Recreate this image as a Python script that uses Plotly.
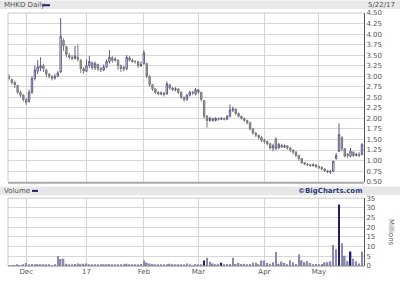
import pandas as pd
import plotly.graph_objects as go

holidays = ['2016-11-24', '2016-12-26', '2017-01-02', '2017-01-16', '2017-02-20', '2017-04-14']
days = [d.strftime('%Y-%m-%d') for d in pd.bdate_range('2016-11-22', '2017-05-22') if d.strftime('%Y-%m-%d') not in holidays]

opens = [3.00, 2.92, 2.85, 2.78, 2.62, 2.55, 2.45, 2.40, 2.62, 2.95,
         3.12, 3.20, 3.25, 3.15, 3.05, 3.00, 2.96, 3.00, 3.10, 3.85,
         3.70, 3.50, 3.45, 3.42, 3.45, 3.38, 3.18, 3.12, 3.25, 3.32,
         3.20, 3.28, 3.18, 3.15, 3.22, 3.35, 3.44, 3.38, 3.38, 3.25,
         3.18, 3.18, 3.44, 3.38, 3.35, 3.35, 3.25, 3.30, 3.30, 3.00,
         2.80, 2.70, 2.62, 2.58, 2.60, 2.58, 2.80, 2.72, 2.68, 2.70,
         2.62, 2.50, 2.45, 2.55, 2.62, 2.58, 2.68, 2.62, 2.42, 2.05,
         1.95, 2.00, 1.95, 2.00, 1.98, 2.00, 1.98, 2.05, 2.20, 2.22,
         2.12, 2.05, 2.00, 1.95, 1.90, 1.75, 1.65, 1.60, 1.55, 1.48,
         1.45, 1.40, 1.30, 1.52, 1.30, 1.36, 1.32, 1.35, 1.30, 1.25,
         1.20, 1.12, 1.05, 0.95, 0.92, 0.90, 0.88, 0.90, 0.86, 0.84,
         0.80, 0.76, 0.73, 0.75, 1.05, 1.22, 1.55, 1.28, 1.15, 1.10,
         1.20, 1.12, 1.15, 1.15]
closes = [2.95, 2.85, 2.80, 2.62, 2.55, 2.45, 2.38, 2.62, 2.95, 3.15,
          3.22, 3.25, 3.18, 3.05, 3.00, 2.95, 3.00, 3.08, 3.95, 3.72,
          3.52, 3.45, 3.42, 3.48, 3.40, 3.18, 3.12, 3.25, 3.35, 3.20,
          3.30, 3.18, 3.15, 3.22, 3.35, 3.45, 3.38, 3.40, 3.25, 3.18,
          3.20, 3.45, 3.38, 3.35, 3.35, 3.25, 3.28, 3.55, 3.00, 2.80,
          2.70, 2.62, 2.58, 2.60, 2.57, 2.82, 2.72, 2.68, 2.70, 2.62,
          2.50, 2.45, 2.55, 2.62, 2.60, 2.68, 2.62, 2.45, 2.05, 1.95,
          2.00, 1.95, 2.00, 1.98, 2.00, 1.98, 2.05, 2.20, 2.22, 2.12,
          2.05, 2.00, 1.95, 1.90, 1.75, 1.65, 1.60, 1.55, 1.48, 1.45,
          1.40, 1.30, 1.35, 1.28, 1.38, 1.32, 1.35, 1.30, 1.25, 1.20,
          1.12, 1.05, 0.95, 0.92, 0.90, 0.88, 0.90, 0.86, 0.84, 0.80,
          0.76, 0.73, 0.74, 0.98, 1.12, 1.62, 1.28, 1.10, 1.12, 1.22,
          1.12, 1.15, 1.12, 1.38]
highs = [3.05, 2.95, 2.90, 2.80, 2.66, 2.58, 2.48, 2.68, 3.00, 3.25,
         3.38, 3.45, 3.30, 3.18, 3.08, 3.02, 3.05, 3.12, 4.38, 3.90,
         3.72, 3.55, 3.50, 3.72, 3.75, 3.40, 3.22, 3.40, 3.48, 3.35,
         3.35, 3.30, 3.22, 3.28, 3.40, 3.62, 3.48, 3.45, 3.40, 3.28,
         3.25, 3.50, 3.48, 3.42, 3.38, 3.36, 3.35, 3.62, 3.32, 3.02,
         2.82, 2.72, 2.65, 2.64, 2.62, 2.88, 2.82, 2.75, 2.74, 2.72,
         2.64, 2.52, 2.58, 2.66, 2.65, 2.72, 2.70, 2.64, 2.44, 2.08,
         2.04, 2.02, 2.03, 2.02, 2.03, 2.02, 2.08, 2.33, 2.28, 2.24,
         2.14, 2.07, 2.02, 1.97, 1.92, 1.77, 1.68, 1.62, 1.58, 1.52,
         1.48, 1.42, 1.40, 1.55, 1.42, 1.40, 1.38, 1.36, 1.32, 1.27,
         1.22, 1.14, 1.06, 0.97, 0.94, 0.92, 0.93, 0.91, 0.88, 0.86,
         0.82, 0.78, 0.78, 1.00, 1.18, 1.88, 1.58, 1.30, 1.18, 1.30,
         1.22, 1.18, 1.20, 1.42]
lows = [2.90, 2.80, 2.72, 2.58, 2.50, 2.40, 2.32, 2.38, 2.58, 2.90,
        3.05, 3.12, 3.10, 2.98, 2.95, 2.90, 2.92, 2.98, 3.08, 3.60,
        3.45, 3.40, 3.38, 3.40, 3.35, 3.08, 3.05, 3.10, 3.20, 3.15,
        3.15, 3.12, 3.10, 3.12, 3.20, 3.30, 3.32, 3.35, 3.15, 3.10,
        3.12, 3.15, 3.35, 3.32, 3.30, 3.20, 3.22, 3.28, 2.95, 2.75,
        2.65, 2.58, 2.55, 2.55, 2.52, 2.56, 2.68, 2.65, 2.64, 2.58,
        2.46, 2.40, 2.42, 2.52, 2.56, 2.55, 2.58, 2.40, 2.00, 1.78,
        1.92, 1.92, 1.93, 1.95, 1.96, 1.95, 1.96, 2.03, 2.15, 2.08,
        2.02, 1.97, 1.92, 1.86, 1.72, 1.62, 1.56, 1.50, 1.44, 1.40,
        1.36, 1.26, 1.22, 1.25, 1.28, 1.30, 1.30, 1.26, 1.20, 1.15,
        1.08, 1.00, 0.92, 0.89, 0.87, 0.85, 0.86, 0.82, 0.80, 0.77,
        0.73, 0.70, 0.68, 0.73, 1.02, 1.20, 1.22, 1.08, 1.06, 1.08,
        1.08, 1.10, 1.08, 1.12]
volume_m = [0.3, 0.4, 0.3, 0.5, 0.4, 0.5, 1.5, 0.8, 1.0, 0.6,
            0.9, 0.6, 0.7, 0.5, 0.6, 0.4, 0.6, 5.2, 3.6, 3.8,
            1.2, 0.8, 0.9, 1.0, 1.3, 0.8, 1.2, 1.3, 0.9, 0.7,
            0.8, 0.6, 0.5, 0.7, 0.6, 1.0, 0.8, 0.5, 0.6, 0.7,
            0.5, 1.1, 0.6, 0.5, 0.7, 0.6, 1.0, 2.8, 1.8, 1.3,
            1.0, 0.8, 0.6, 0.5, 0.6, 0.7, 1.2, 0.6, 0.5, 0.6,
            0.5, 0.6, 1.3, 0.5, 0.4, 0.5, 0.5, 0.6, 2.8, 4.2,
            2.2, 1.3, 0.6, 0.5, 1.7, 0.6, 1.0, 1.0, 4.2, 1.0,
            1.5, 1.0, 1.2, 0.8, 1.0, 1.7, 1.7, 0.8, 2.8, 2.8,
            1.5, 1.2, 2.0, 7.2, 1.2, 2.2, 1.5, 0.7, 3.0, 2.0,
            1.0, 6.0, 3.0, 2.0, 2.5, 1.5, 0.7, 1.0, 0.5, 1.0,
            2.0, 2.0, 2.5, 10.8, 8.7, 31.7, 11.7, 5.3, 2.5, 7.5,
            3.7, 2.5, 1.3, 7.5]
dark_volume_days = [68, 74, 115, 119]

month_ticks = ['2016-12-01', '2017-01-03', '2017-02-01', '2017-03-01', '2017-04-03', '2017-05-01']
month_labels = ['Dec', '17', 'Feb', 'Mar', 'Apr', 'May']
price_ticks = [0.5 + 0.25 * k for k in range(17)]
volume_ticks = [0, 5, 10, 15, 20, 25, 30, 35]

FONT = 'DejaVu Sans'
W, H = 400, 284
L, R, T, B = 8, 36, 13, 10
PW, PH = W - L - R, H - T - B


def px(x):
    return (x - L) / PW


def py(y):
    return (H - B - y) / PH


vol_colors = ['#1e1e64' if i in dark_volume_days else '#8a8ab0' for i in range(len(days))]

fig = go.Figure()
fig.add_trace(go.Candlestick(
    x=days, open=opens, high=highs, low=lows, close=closes,
    xaxis='x', yaxis='y',
    increasing=dict(line=dict(color='#5c5c8c', width=1), fillcolor='#ffffff'),
    decreasing=dict(line=dict(color='#7a7a7a', width=1), fillcolor='#a4a4a4'),
    whiskerwidth=0, showlegend=False, hoverinfo='skip'))
fig.add_trace(go.Bar(
    x=days, y=volume_m, xaxis='x2', yaxis='y2',
    marker=dict(color=vol_colors, line=dict(width=0)),
    showlegend=False, hoverinfo='skip'))

xr = [-0.35, len(days) - 0.3]
common_x = dict(type='category', range=xr, tickmode='array', tickvals=month_ticks,
                showgrid=True, gridcolor='#d4d4d4', gridwidth=1, zeroline=False,
                showline=False, ticks='', fixedrange=True)
fig.update_layout(
    width=W, height=H,
    margin=dict(l=L, r=R, t=T, b=B),
    paper_bgcolor='white', plot_bgcolor='white',
    font=dict(family=FONT, size=7, color='#555555'),
    bargap=0.45,
    xaxis=dict(common_x, anchor='y', showticklabels=False, rangeslider=dict(visible=False)),
    xaxis2=dict(common_x, anchor='y2', ticktext=month_labels, showticklabels=True,
                tickfont=dict(family=FONT, size=7, color='#555555')),
    yaxis=dict(domain=[py(187), 1.0], range=[0.5, 4.5], side='right', tickmode='array',
               tickvals=price_ticks, tickformat='.2f', showgrid=True, gridcolor='#d8d8d8',
               zeroline=False, showline=True, linecolor='#555555', linewidth=1, ticks='',
               tickfont=dict(family=FONT, size=7, color='#555555'), fixedrange=True),
    yaxis2=dict(domain=[0, py(204)], range=[0, 35], side='right', tickmode='array',
                tickvals=volume_ticks, showgrid=True, gridcolor='#d8d8d8', zeroline=False,
                showline=True, linecolor='#555555', linewidth=1, ticks='',
                tickfont=dict(family=FONT, size=7, color='#555555'), fixedrange=True),
)

shapes = [
    dict(type='rect', xref='paper', yref='paper', x0=px(0), x1=px(400), y0=py(9), y1=py(0),
         fillcolor='#e8e8e8', line=dict(width=0), layer='below'),
    dict(type='rect', xref='paper', yref='paper', x0=px(0), x1=px(400), y0=py(201), y1=py(192),
         fillcolor='#e8e8e8', line=dict(width=0), layer='below'),
    dict(type='line', xref='paper', yref='paper', x0=px(42), x1=px(50), y0=py(5), y1=py(5),
         line=dict(color='#1e1e64', width=2)),
    dict(type='line', xref='paper', yref='paper', x0=px(32), x1=px(38), y0=py(196.5), y1=py(196.5),
         line=dict(color='#1e1e64', width=2)),
    dict(type='line', xref='paper', yref='paper', x0=0, x1=1, y0=1, y1=1, line=dict(color='#c8c8c8', width=1)),
    dict(type='line', xref='paper', yref='paper', x0=0, x1=0, y0=py(187), y1=1, line=dict(color='#c8c8c8', width=1)),
    dict(type='line', xref='paper', yref='paper', x0=0, x1=1, y0=py(188), y1=py(188), line=dict(color='#a8a8a8', width=2)),
    dict(type='line', xref='paper', yref='paper', x0=0, x1=1, y0=py(204), y1=py(204), line=dict(color='#c8c8c8', width=1)),
    dict(type='line', xref='paper', yref='paper', x0=0, x1=0, y0=0, y1=py(204), line=dict(color='#c8c8c8', width=1)),
    dict(type='line', xref='paper', yref='paper', x0=0, x1=1, y0=0, y1=0, line=dict(color='#888888', width=1)),
]
fig.update_layout(shapes=shapes)

ann = [
    dict(text='MHKD Daily', x=px(2), y=py(5), xanchor='left', yanchor='middle'),
    dict(text='5/22/17', x=px(397), y=py(5), xanchor='right', yanchor='middle'),
    dict(text='Volume', x=px(2), y=py(196.5), xanchor='left', yanchor='middle'),
    dict(text='<b>©BigCharts.com</b>', x=px(364), y=py(196.5), xanchor='right', yanchor='middle',
         font=dict(family=FONT, size=7, color='#2a3a7a')),
    dict(text='Millions', x=px(391), y=py(240), xanchor='center', yanchor='middle', textangle=90),
]
for a in ann:
    a.setdefault('font', dict(family=FONT, size=7, color='#555555'))
    fig.add_annotation(xref='paper', yref='paper', showarrow=False, **a)

fig.write_html('out.html')
